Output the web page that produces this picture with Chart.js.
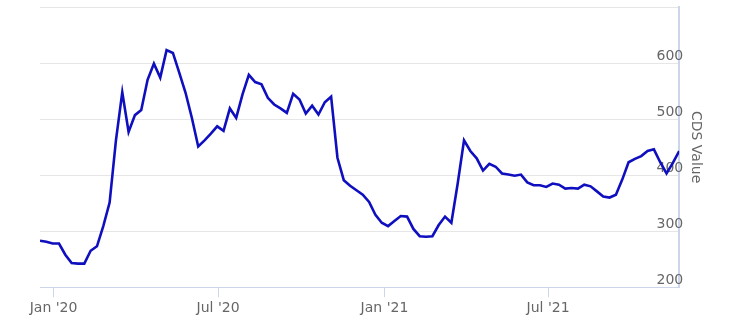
<!DOCTYPE html>
<html>
<head>
<meta charset="utf-8">
<script src="https://cdn.jsdelivr.net/npm/chart.js@4/dist/chart.umd.min.js"></script>
<style>
  body { margin: 0; background: #fff; }
  #box { width: 734px; height: 333px; }
</style>
</head>
<body>
<div id="box"><canvas id="myChart"></canvas></div>
<script>
// weekly CDS values, first point 17 Dec 2019
const startDay = -15   // days from 1 Jan 2020
const stepDays = 7
const cdsValues = [
  283, 281, 278, 278, 258, 243, 242, 242, 265, 273,
  309, 351, 462, 548, 477, 507, 516, 570, 599, 574,
  623, 618, 583, 547, 502, 451, 462, 474, 487, 479,
  519, 502, 544, 579, 566, 562, 538, 526, 519, 511,
  545, 535, 510, 524, 508, 530, 540, 431, 391, 381,
  373, 365, 352, 329, 315, 309, 318, 327, 326, 304,
  291, 290, 291, 311, 326, 315, 385, 462, 443, 430,
  408, 420, 415, 403, 401, 399, 401, 387, 382, 382,
  379, 385, 383, 376, 377, 376, 383, 380, 371, 362,
  360, 365, 392, 423, 429, 434, 443, 446, 423, 403,
  422, 443
]
const xTickDays = [0, 182, 366, 547]
const xTickLabels = ["Jan '20", "Jul '20", "Jan '21", "Jul '21"]
const yTicks = [200, 300, 400, 500, 600, 700]

const points = cdsValues.map(function (v, i) {
  return { x: startDay + i * stepDays, y: v }
})

Chart.defaults.font.family = "'DejaVu Sans', sans-serif"
Chart.defaults.font.size = 14
Chart.defaults.color = '#666666'

const ctx = document.getElementById('myChart')

new Chart(ctx, {
  type: 'line',
  data: {
    datasets: [{
      label: 'CDS Value',
      data: points,
      borderColor: '#0f0fbf',
      borderWidth: 2.6,
      pointRadius: 0,
      tension: 0,
      fill: false
    }]
  },
  options: {
    responsive: true,
    maintainAspectRatio: false,
    animation: false,
    layout: { padding: { left: 40, right: 21, top: 7, bottom: 13 } },
    plugins: { legend: { display: false }, tooltip: { enabled: false } },
    scales: {
      x: {
        type: 'linear',
        min: startDay,
        max: startDay + (cdsValues.length - 1) * stepDays,
        afterBuildTicks: function (axis) {
          axis.ticks = xTickDays.map(function (d) { return { value: d } })
        },
        ticks: {
          padding: 3,
          maxRotation: 0,
          callback: function (v) {
            const k = xTickDays.indexOf(v)
            return k >= 0 ? xTickLabels[k] : ''
          }
        },
        grid: {
          drawOnChartArea: false,
          drawTicks: true,
          tickLength: 10,
          tickColor: '#ccd6eb'
        },
        border: { display: true, color: '#ccd6eb', width: 1 }
      },
      y: {
        position: 'right',
        min: 200,
        max: 700,
        afterBuildTicks: function (axis) {
          axis.ticks = yTicks.map(function (v) { return { value: v } })
        },
        afterFit: function (axis) {
          // labels sit inside the plot, so no extra room above/below
          axis.paddingTop = 0
          axis.paddingBottom = 0
        },
        ticks: {
          mirror: true,
          padding: 4,
          labelOffset: -7,
          callback: function (v) { return v === 700 ? '' : v }
        },
        grid: { color: '#e6e6e6', drawTicks: false },
        border: { display: true, color: '#ccd6eb', width: 2 },
        title: {
          display: true,
          text: 'CDS Value',
          color: '#666666',
          font: { size: 14 },
          padding: { top: 9, bottom: 0 }
        }
      }
    }
  }
})
</script>
</body>
</html>
